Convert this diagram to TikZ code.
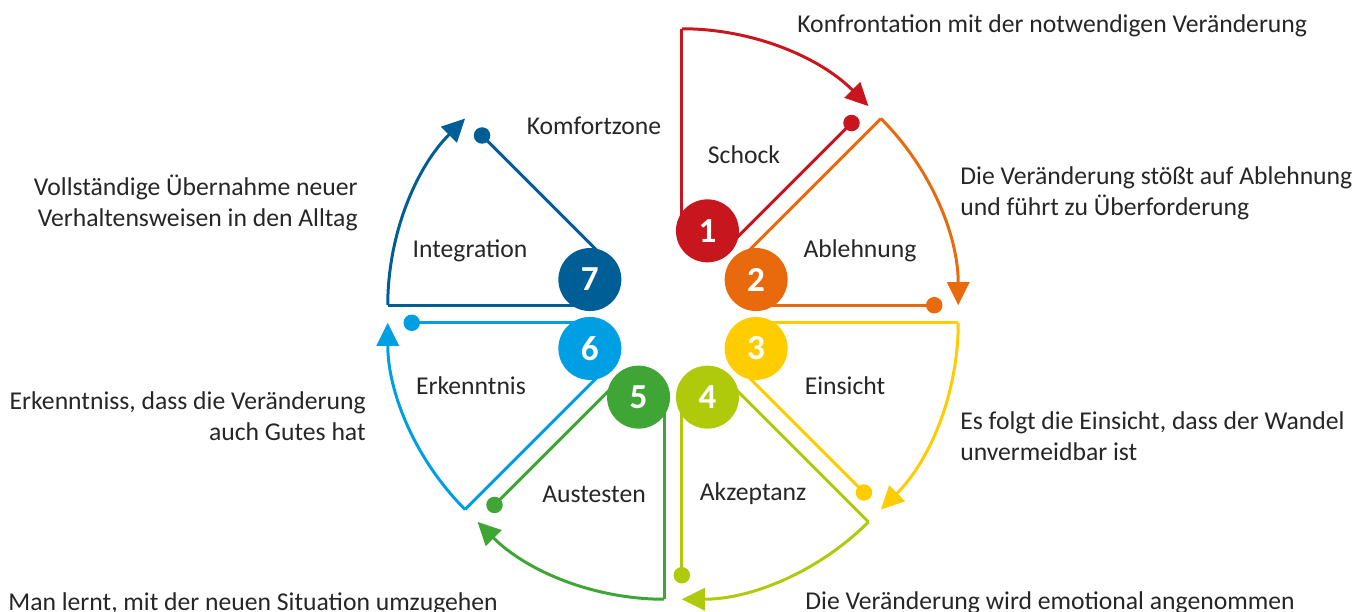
\documentclass[tikz,border=0pt]{standalone}
\usepackage{fontspec}
\setmainfont{Carlito}
\usetikzlibrary{arrows.meta,calc,positioning}

\definecolor{stageA}{RGB}{200,22,30}
\definecolor{stageB}{RGB}{233,106,13}
\definecolor{stageC}{RGB}{255,204,0}
\definecolor{stageD}{RGB}{175,202,11}
\definecolor{stageE}{RGB}{63,165,53}
\definecolor{stageF}{RGB}{0,159,227}
\definecolor{stageG}{RGB}{0,94,151}

\begin{document}
\begin{tikzpicture}[x=0.02cm,y=0.02cm,
    txt/.style={text=black!85, inner sep=0pt,
                font=\fontsize{14.6}{17.6}\selectfont},
    num/.style={circle, minimum size=1.26cm, inner sep=0pt, text=white,
                font=\fontsize{20}{20}\selectfont\bfseries},
    dot/.style={circle, minimum size=0.33cm, inner sep=0pt},
    stage/.style={line width=1.7pt},
    arr/.style={stage, -{Triangle[length=0.46cm,width=0.44cm]}}]
    \useasboundingbox (0,0) rectangle (1370,612);

    \coordinate (O) at (673,298);

    % apex of each sector
    \coordinate (A1) at ($(O)+(67.5:23)$);
    \coordinate (A2) at ($(O)+(22.5:23)$);
    \coordinate (A3) at ($(O)+(-22.5:23)$);
    \coordinate (A4) at ($(O)+(-67.5:23)$);
    \coordinate (A5) at ($(O)+(-112.5:23)$);
    \coordinate (A6) at ($(O)+(-157.5:23)$);
    \coordinate (A7) at ($(O)+(157.5:23)$);

    % Schock
    \coordinate (B1) at ($(A1)+(90:62)$);
    \coordinate (S1) at ($(A1)+(90:264)$);
    \coordinate (C1) at ($(A1)+(45:62)$);
    \node (D1) at ($(A1)+(45:240)$) [dot, fill=stageA] {};
    \draw[stage, stageA] (B1) -- (S1);
    \draw[arr, stageA] (S1) arc[start angle=90, end angle=45, radius=264];
    \draw[stage, stageA] (C1) -- (D1.center);

    % Ablehnung
    \coordinate (B2) at ($(A2)+(45:62)$);
    \coordinate (S2) at ($(A2)+(45:264)$);
    \coordinate (C2) at ($(A2)+(0:62)$);
    \node (D2) at ($(A2)+(0:240)$) [dot, fill=stageB] {};
    \draw[stage, stageB] (B2) -- (S2);
    \draw[arr, stageB] (S2) arc[start angle=45, end angle=0, radius=264];
    \draw[stage, stageB] (C2) -- (D2.center);

    % Einsicht
    \coordinate (B3) at ($(A3)+(0:62)$);
    \coordinate (S3) at ($(A3)+(0:264)$);
    \coordinate (C3) at ($(A3)+(-45:62)$);
    \node (D3) at ($(A3)+(-45:240)$) [dot, fill=stageC] {};
    \draw[stage, stageC] (B3) -- (S3);
    \draw[arr, stageC] (S3) arc[start angle=0, end angle=-45, radius=264];
    \draw[stage, stageC] (C3) -- (D3.center);

    % Akzeptanz
    \coordinate (B4) at ($(A4)+(-45:62)$);
    \coordinate (S4) at ($(A4)+(-45:264)$);
    \coordinate (C4) at ($(A4)+(-90:62)$);
    \node (D4) at ($(A4)+(-90:240)$) [dot, fill=stageD] {};
    \draw[stage, stageD] (B4) -- (S4);
    \draw[arr, stageD] (S4) arc[start angle=-45, end angle=-90, radius=264];
    \draw[stage, stageD] (C4) -- (D4.center);

    % Austesten
    \coordinate (B5) at ($(A5)+(-90:62)$);
    \coordinate (S5) at ($(A5)+(-90:264)$);
    \coordinate (C5) at ($(A5)+(-135:62)$);
    \node (D5) at ($(A5)+(-135:240)$) [dot, fill=stageE] {};
    \draw[stage, stageE] (B5) -- (S5);
    \draw[arr, stageE] (S5) arc[start angle=-90, end angle=-135, radius=264];
    \draw[stage, stageE] (C5) -- (D5.center);

    % Erkenntnis
    \coordinate (B6) at ($(A6)+(-135:62)$);
    \coordinate (S6) at ($(A6)+(-135:264)$);
    \coordinate (C6) at ($(A6)+(180:62)$);
    \node (D6) at ($(A6)+(180:240)$) [dot, fill=stageF] {};
    \draw[stage, stageF] (B6) -- (S6);
    \draw[arr, stageF] (S6) arc[start angle=-135, end angle=-180, radius=264];
    \draw[stage, stageF] (C6) -- (D6.center);

    % Integration
    \coordinate (B7) at ($(A7)+(180:62)$);
    \coordinate (S7) at ($(A7)+(180:264)$);
    \coordinate (C7) at ($(A7)+(135:62)$);
    \node (D7) at ($(A7)+(135:240)$) [dot, fill=stageG] {};
    \draw[stage, stageG] (B7) -- (S7);
    \draw[arr, stageG] (S7) arc[start angle=180, end angle=135, radius=264];
    \draw[stage, stageG] (C7) -- (D7.center);

    % numbered circles
    \node (N1) at ($(O)+(67.5:90)$) [num, fill=stageA] {1};
    \node (N2) at ($(O)+(22.5:90)$) [num, fill=stageB] {2};
    \node (N3) at ($(O)+(-22.5:90)$) [num, fill=stageC] {3};
    \node (N4) at ($(O)+(-67.5:90)$) [num, fill=stageD] {4};
    \node (N5) at ($(O)+(-112.5:90)$) [num, fill=stageE] {5};
    \node (N6) at ($(O)+(-157.5:90)$) [num, fill=stageF] {6};
    \node (N7) at ($(O)+(157.5:90)$) [num, fill=stageG] {7};

    % phase names
    \node (Kom) at (594,486) [txt] {Komfortzone};
    \node (Sch) at (744,457) [txt] {Schock};
    \node (Abl) at (860,361) [txt] {Ablehnung};
    \node (Ein) at (845,226) [txt] {Einsicht};
    \node (Akz) at (753,118) [txt] {Akzeptanz};
    \node (Aus) at (594,118) [txt] {Austesten};
    \node (Erk) at (471,226) [txt] {Erkenntnis};
    \node (Int) at (470,361) [txt] {Integration};

    % descriptions
    \node (KonfT) at (797,579) [txt, anchor=base west] {Konfrontation mit der notwendigen Veränderung};
    \node (AblT) at (960,419) [txt, anchor=west, align=left] {Die Veränderung stößt auf Ablehnung\\und führt zu Überforderung};
    \node (EinT) at (960,176) [txt, anchor=west, align=left] {Es folgt die Einsicht, dass der Wandel\\unvermeidbar ist};
    \node (AkzT) at (805,2) [txt, anchor=base west] {Die Veränderung wird emotional angenommen};
    \node (AusT) at (8,1) [txt, anchor=base west] {Man lernt, mit der neuen Situation umzugehen};
    \node (ErkT) at (366,196) [txt, anchor=east, align=right] {Erkenntniss, dass die Veränderung\\auch Gutes hat};
    \node (IntT) at (358,409) [txt, anchor=east, align=right] {Vollständige Übernahme neuer\\Verhaltensweisen in den Alltag};
\end{tikzpicture}
\end{document}
